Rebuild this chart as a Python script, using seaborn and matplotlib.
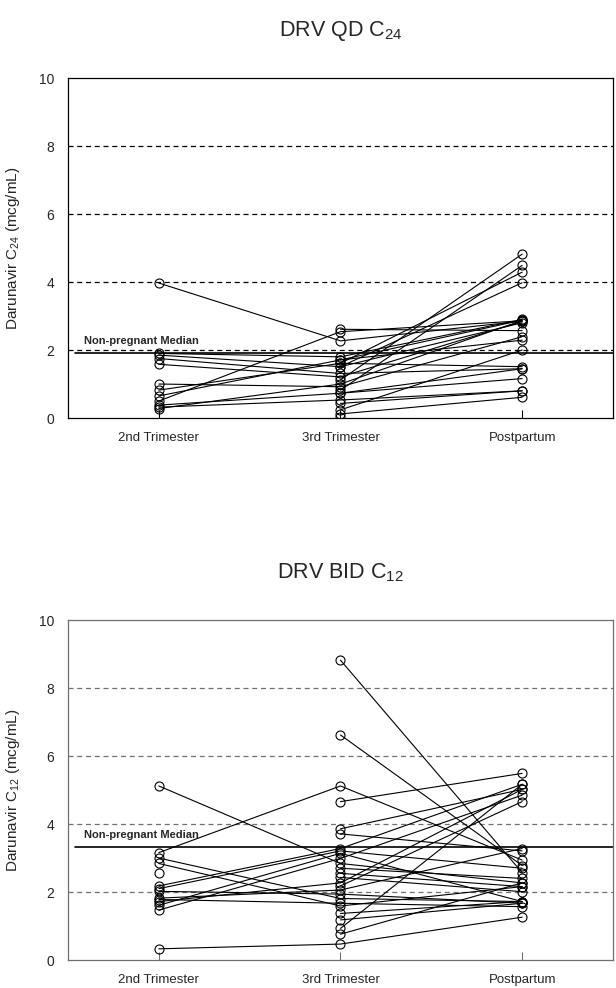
import numpy as np
import pandas as pd
import matplotlib
matplotlib.use("Agg")
import matplotlib.pyplot as plt
import seaborn as sns

# ----- data -----
visits = ["2nd Trimester", "3rd Trimester", "Postpartum"]

# DRV QD C24: one row per subject (2nd, 3rd, postpartum), nan = not sampled
qd_2nd = [3.97, 1.90, 1.85, 1.75, 1.58, 1.00, 0.82, 0.65, 0.50, 0.38, 0.32, 0.28,
          np.nan, np.nan, np.nan, np.nan, np.nan, np.nan, np.nan, np.nan, np.nan, np.nan, np.nan]
qd_3rd = [2.27, 1.80, 1.51, 1.31, 1.21, 0.92, 1.61, 1.71, 2.54, 0.73, 0.53, 1.00,
          2.61, 1.12, 0.82, 1.61, 1.51, 0.43, 0.12, 0.04, 0.24, 1.71, 0.73]
qd_pp = [2.85, 2.90, 2.80, 1.45, 2.84, 2.39, 1.51, 2.88, 2.86, 1.16, 0.80, 2.87,
         2.57, 4.82, 4.49, 4.29, 3.98, 0.80, 0.61, np.nan, 2.00, 2.29, 1.45]
qd_median = 1.91

# DRV BID C12
bid_2nd = [5.12, 3.16, 3.00, 2.84, 2.57, 2.18, 2.10, 2.02, 1.82, 1.78, 1.72, 1.61, 1.47, 0.33,
           np.nan, np.nan, np.nan, np.nan, np.nan, np.nan, np.nan, np.nan, np.nan, np.nan, np.nan,
           np.nan, np.nan]
bid_3rd = [2.84, 5.12, 1.81, 1.59, np.nan, 3.28, 3.21, 1.94, 2.06, 1.67, 2.27, 3.14, 2.99, 0.47,
           8.82, 6.62, 4.66, 3.86, 3.71, 2.70, 2.43, 2.55, 2.18, 0.93, 1.18, 0.76, 1.37]
bid_pp = [2.27, 2.94, 1.72, 2.16, np.nan, 5.17, 2.70, 1.67, 3.28, 1.57, 5.02, 1.72, 4.85, 1.26,
          2.57, 2.78, 5.49, 5.02, 3.21, 2.40, 2.01, 2.16, 4.66, 5.17, 1.67, 2.27, 1.72]
bid_median = 3.32

sns.set_style("white")
plt.rcParams["font.family"] = ["Liberation Sans", "DejaVu Sans"]
plt.rcParams["mathtext.fontset"] = "custom"
plt.rcParams["mathtext.rm"] = "Liberation Sans"


def to_long(v2, v3, vp):
    rows = []
    for i, trio in enumerate(zip(v2, v3, vp)):
        for k, val in enumerate(trio):
            if not np.isnan(val):
                rows.append({"subject": i, "visit": k, "conc": val})
    return pd.DataFrame(rows)


def draw_panel(ax, df, median, title, ylabel, frame_color):
    for y in [2, 4, 6, 8]:
        ax.axhline(y, color=frame_color, ls=(0, (4, 3)), lw=0.9, zorder=1)
    ax.axhline(median, xmin=0.012, xmax=1, color="black", lw=1.2, zorder=2)
    ax.text(-0.41, median + 0.2, "Non-pregnant Median", fontsize=8,
            fontweight="bold", ha="left", va="bottom")
    sns.lineplot(data=df, x="visit", y="conc", units="subject", estimator=None,
                 color="black", lw=0.8, marker="o", markersize=6.5,
                 markerfacecolor="none", markeredgecolor="black",
                 markeredgewidth=0.8, ax=ax, zorder=3)
    ax.set_xlim(-0.5, 2.5)
    ax.set_ylim(0, 10)
    ax.set_xticks([0, 1, 2])
    ax.set_xticklabels(visits, fontsize=9.5)
    ax.set_yticks([0, 2, 4, 6, 8, 10])
    ax.set_yticklabels(["0", "2", "4", "6", "8", "10"], fontsize=10)
    ax.tick_params(axis="x", direction="in", length=6, width=0.8,
                   color=frame_color, pad=10, bottom=True)
    ax.tick_params(axis="y", length=0, pad=10)
    ax.set_xlabel("")
    ax.set_ylabel(ylabel, fontsize=11)
    ax.yaxis.set_label_coords(-0.085, 0.5)
    ax.set_title(title, fontsize=15.5, pad=30)
    for s in ax.spines.values():
        s.set_visible(True)
        s.set_color(frame_color)
        s.set_linewidth(0.9)


fig = plt.figure(figsize=(6.16, 9.88), dpi=100)
ax1 = fig.add_axes([0.1104, 0.5769, 0.8847, 0.3441])
ax2 = fig.add_axes([0.1104, 0.0283, 0.8847, 0.3441])

draw_panel(ax1, to_long(qd_2nd, qd_3rd, qd_pp), qd_median,
           r"DRV QD C$_{24}$", r"Darunavir C$_{24}$ (mcg/mL)", "black")
draw_panel(ax2, to_long(bid_2nd, bid_3rd, bid_pp), bid_median,
           r"DRV BID C$_{12}$", r"Darunavir C$_{12}$ (mcg/mL)", "#707070")

fig.savefig("out.png", dpi=100)
